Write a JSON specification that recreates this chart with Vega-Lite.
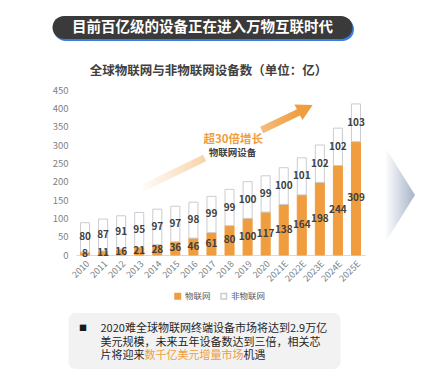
{
  "$schema": "https://vega.github.io/schema/vega-lite/v6.json",
  "background": "white",
  "padding": {"left": 52, "top": 16, "right": 0, "bottom": 0},
  "config": {"view": {"stroke": null}, "font": "Noto Sans CJK SC"},
  "spacing": 11,
  "resolve": {"legend": {"fill": "independent", "stroke": "independent"}},
  "vconcat": [
    {
      "spacing": 23,
      "resolve": {"legend": {"fill": "independent", "stroke": "independent"}},
      "vconcat": [
        {
          "width": 300,
          "height": 23,
          "data": {"values": [{"label": "目前百亿级的设备正在进入万物互联时代"}]},
          "layer": [
            {"mark": {"type": "rect", "fill": "#3c7de0", "cornerRadius": 11.5}, "encoding": {"x": {"value": -22}, "x2": {"value": 278}, "y": {"value": 2}, "y2": {"value": 25}}},
            {"mark": {"type": "rect", "fill": "#3a3a3a", "cornerRadius": 11.5}, "encoding": {"x": {"value": -23.5}, "x2": {"value": 276.5}, "y": {"value": 0}, "y2": {"value": 23}}},
            {"mark": {"type": "text", "color": "white", "fontSize": 14.5, "fontWeight": "bold", "dx": -23.5}, "encoding": {"text": {"field": "label"}}}
          ]
        },
        {
          "spacing": 20,
          "resolve": {"legend": {"fill": "independent", "stroke": "independent"}},
          "hconcat": [
            {
              "width": 289,
              "height": 165,
              "title": {"text": "全球物联网与非物联网设备数（单位：亿）", "fontSize": 12.5, "fontWeight": "bold", "color": "#404040", "frame": "bounds", "offset": 8},
              "resolve": {"scale": {"x": "independent", "y": "independent"}},
              "layer": [
                {
                  "data": {"values": [
                    {"year": "2010", "type": "物联网", "value": 8}, {"year": "2010", "type": "非物联网", "value": 80},
                    {"year": "2011", "type": "物联网", "value": 11}, {"year": "2011", "type": "非物联网", "value": 87},
                    {"year": "2012", "type": "物联网", "value": 16}, {"year": "2012", "type": "非物联网", "value": 91},
                    {"year": "2013", "type": "物联网", "value": 21}, {"year": "2013", "type": "非物联网", "value": 95},
                    {"year": "2014", "type": "物联网", "value": 28}, {"year": "2014", "type": "非物联网", "value": 97},
                    {"year": "2015", "type": "物联网", "value": 36}, {"year": "2015", "type": "非物联网", "value": 97},
                    {"year": "2016", "type": "物联网", "value": 46}, {"year": "2016", "type": "非物联网", "value": 98},
                    {"year": "2017", "type": "物联网", "value": 61}, {"year": "2017", "type": "非物联网", "value": 99},
                    {"year": "2018", "type": "物联网", "value": 80}, {"year": "2018", "type": "非物联网", "value": 99},
                    {"year": "2019", "type": "物联网", "value": 100}, {"year": "2019", "type": "非物联网", "value": 100},
                    {"year": "2020", "type": "物联网", "value": 117}, {"year": "2020", "type": "非物联网", "value": 99},
                    {"year": "2021E", "type": "物联网", "value": 138}, {"year": "2021E", "type": "非物联网", "value": 100},
                    {"year": "2022E", "type": "物联网", "value": 164}, {"year": "2022E", "type": "非物联网", "value": 101},
                    {"year": "2023E", "type": "物联网", "value": 198}, {"year": "2023E", "type": "非物联网", "value": 102},
                    {"year": "2024E", "type": "物联网", "value": 244}, {"year": "2024E", "type": "非物联网", "value": 102},
                    {"year": "2025E", "type": "物联网", "value": 309}, {"year": "2025E", "type": "非物联网", "value": 103}
                  ]},
                  "encoding": {
                    "x": {"field": "year", "type": "ordinal", "sort": null, "scale": {"paddingInner": 0.5, "paddingOuter": 0.25},
                      "axis": {"title": null, "labelAngle": -45, "labelFontSize": 9, "labelColor": "#7f7f7f", "ticks": false, "domainColor": "#d9d9d9", "labelPadding": 4}},
                    "y": {"field": "value", "type": "quantitative", "stack": "zero", "scale": {"domain": [0, 450]},
                      "axis": {"title": null, "values": [0, 50, 100, 150, 200, 250, 300, 350, 400, 450], "grid": false, "domain": false, "ticks": false, "labelFontSize": 9.5, "labelColor": "#7f7f7f", "labelPadding": 8}},
                    "order": {"field": "type", "sort": "ascending"}
                  },
                  "layer": [
                    {
                      "mark": {"type": "bar", "strokeWidth": 1},
                      "encoding": {
                        "fill": {"field": "type", "type": "nominal", "scale": {"domain": ["物联网", "非物联网"], "range": ["#EF9D3F", "#ffffff"]},
                          "legend": {"title": null, "orient": "none", "legendX": 97.5, "legendY": 202, "direction": "horizontal", "symbolType": "square", "symbolSize": 30, "labelFontSize": 8.5, "labelColor": "#595959", "labelOffset": 3, "columnPadding": 6}},
                        "stroke": {"field": "type", "type": "nominal", "scale": {"domain": ["物联网", "非物联网"], "range": ["#EF9D3F", "#c9ccd4"]},
                          "legend": {"title": null, "orient": "none", "legendX": 97.5, "legendY": 202, "direction": "horizontal", "symbolType": "square", "symbolSize": 30, "labelFontSize": 8.5, "labelColor": "#595959", "labelOffset": 3, "columnPadding": 6}}
                      }
                    },
                    {
                      "mark": {"type": "text", "fontSize": 10, "fontWeight": "bold", "color": "#404040"},
                      "encoding": {
                        "y": {"field": "value", "type": "quantitative", "stack": "zero", "bandPosition": 0.5},
                        "detail": {"field": "type"},
                        "text": {"field": "value", "type": "quantitative"}
                      }
                    }
                  ]
                },
                {
                  "data": {"values": [{}]},
                  "layer": [
                    {
                      "mark": {"type": "rule", "strokeWidth": 7, "stroke": {"gradient": "linear", "x1": 0, "y1": 0, "x2": 1, "y2": 0, "stops": [{"offset": 0, "color": "rgba(240,160,70,0.03)"}, {"offset": 1, "color": "rgba(240,160,70,0.45)"}]}},
                      "encoding": {
                        "x": {"datum": 3.19, "type": "quantitative", "scale": {"domain": [-0.5, 15.5]}, "axis": null},
                        "x2": {"datum": 6.62},
                        "y": {"datum": 182.7, "type": "quantitative", "scale": {"domain": [0, 450]}, "axis": null},
                        "y2": {"datum": 264.5}
                      }
                    },
                    {
                      "mark": {"type": "rule", "strokeWidth": 7, "stroke": {"gradient": "linear", "x1": 0, "y1": 0, "x2": 1, "y2": 0, "stops": [{"offset": 0, "color": "rgba(240,160,70,0.7)"}, {"offset": 1, "color": "#EF9D3F"}]}},
                      "encoding": {
                        "x": {"datum": 9.78, "type": "quantitative", "scale": {"domain": [-0.5, 15.5]}, "axis": null},
                        "x2": {"datum": 11.85},
                        "y": {"datum": 341, "type": "quantitative", "scale": {"domain": [0, 450]}, "axis": null},
                        "y2": {"datum": 389.5}
                      }
                    },
                    {
                      "mark": {"type": "point", "shape": "M-1,-1.1L1,0L-1,1.1Z", "size": 256, "filled": true, "fill": "#EF9D3F", "opacity": 1, "angle": -27, "strokeWidth": 0},
                      "encoding": {
                        "x": {"datum": 12.21, "type": "quantitative", "scale": {"domain": [-0.5, 15.5]}, "axis": null},
                        "y": {"datum": 399.2, "type": "quantitative", "scale": {"domain": [0, 450]}, "axis": null}
                      }
                    },
                    {
                      "mark": {"type": "text", "text": "超30倍增长", "fontSize": 11.5, "fontWeight": "bold", "color": "#EF9D3F"},
                      "encoding": {
                        "x": {"datum": 8.21, "type": "quantitative", "scale": {"domain": [-0.5, 15.5]}, "axis": null},
                        "y": {"datum": 313.6, "type": "quantitative", "scale": {"domain": [0, 450]}, "axis": null}
                      }
                    },
                    {
                      "mark": {"type": "text", "text": "物联网设备", "fontSize": 9.5, "fontWeight": "bold", "color": "#404040"},
                      "encoding": {
                        "x": {"datum": 8.17, "type": "quantitative", "scale": {"domain": [-0.5, 15.5]}, "axis": null},
                        "y": {"datum": 278, "type": "quantitative", "scale": {"domain": [0, 450]}, "axis": null}
                      }
                    }
                  ]
                }
              ]
            },
            {
              "width": 30,
              "height": 210,
              "data": {"values": [{}]},
              "mark": {"type": "point", "shape": "M-1,-3.2L1,0L-1,3.2Z", "size": 900, "filled": true, "opacity": 1, "strokeWidth": 0,
                "fill": {"gradient": "linear", "x1": 0, "y1": 0, "x2": 1, "y2": 0, "stops": [{"offset": 0, "color": "#ffffff"}, {"offset": 1, "color": "#a7b3c9"}]}},
              "encoding": {}
            }
          ]
        }
      ]
    },
    {
      "width": 272,
      "height": 56,
      "data": {"values": [{}]},
      "layer": [
        {"mark": {"type": "rect", "fill": "#f2f2f2", "cornerRadius": 7}, "encoding": {"x": {"value": -7.5}, "x2": {"value": 264.5}, "y": {"value": 0}, "y2": {"value": 56}}},
        {"mark": {"type": "text", "text": "■", "align": "center", "baseline": "middle", "fontSize": 8, "color": "#1a1a1a", "dx": -129, "dy": -12}, "encoding": {}},
        {"mark": {"type": "text", "text": "2020难全球物联网终端设备市场将达到2.9万亿", "align": "left", "baseline": "middle", "fontSize": 11, "color": "#262626", "dx": -111.5, "dy": -12}, "encoding": {}},
        {"mark": {"type": "text", "text": "美元规模，未来五年设备数达到三倍，相关芯", "align": "left", "baseline": "middle", "fontSize": 11, "color": "#262626", "dx": -111.5, "dy": 1.5}, "encoding": {}},
        {"mark": {"type": "text", "text": "片将迎来", "align": "left", "baseline": "middle", "fontSize": 11, "color": "#262626", "dx": -111.5, "dy": 15}, "encoding": {}},
        {"mark": {"type": "text", "text": "数千亿美元增量市场", "align": "left", "baseline": "middle", "fontSize": 11, "color": "#EF9D3F", "dx": -67.5, "dy": 15}, "encoding": {}},
        {"mark": {"type": "text", "text": "机遇", "align": "left", "baseline": "middle", "fontSize": 11, "color": "#262626", "dx": 31.5, "dy": 15}, "encoding": {}}
      ]
    }
  ]
}
